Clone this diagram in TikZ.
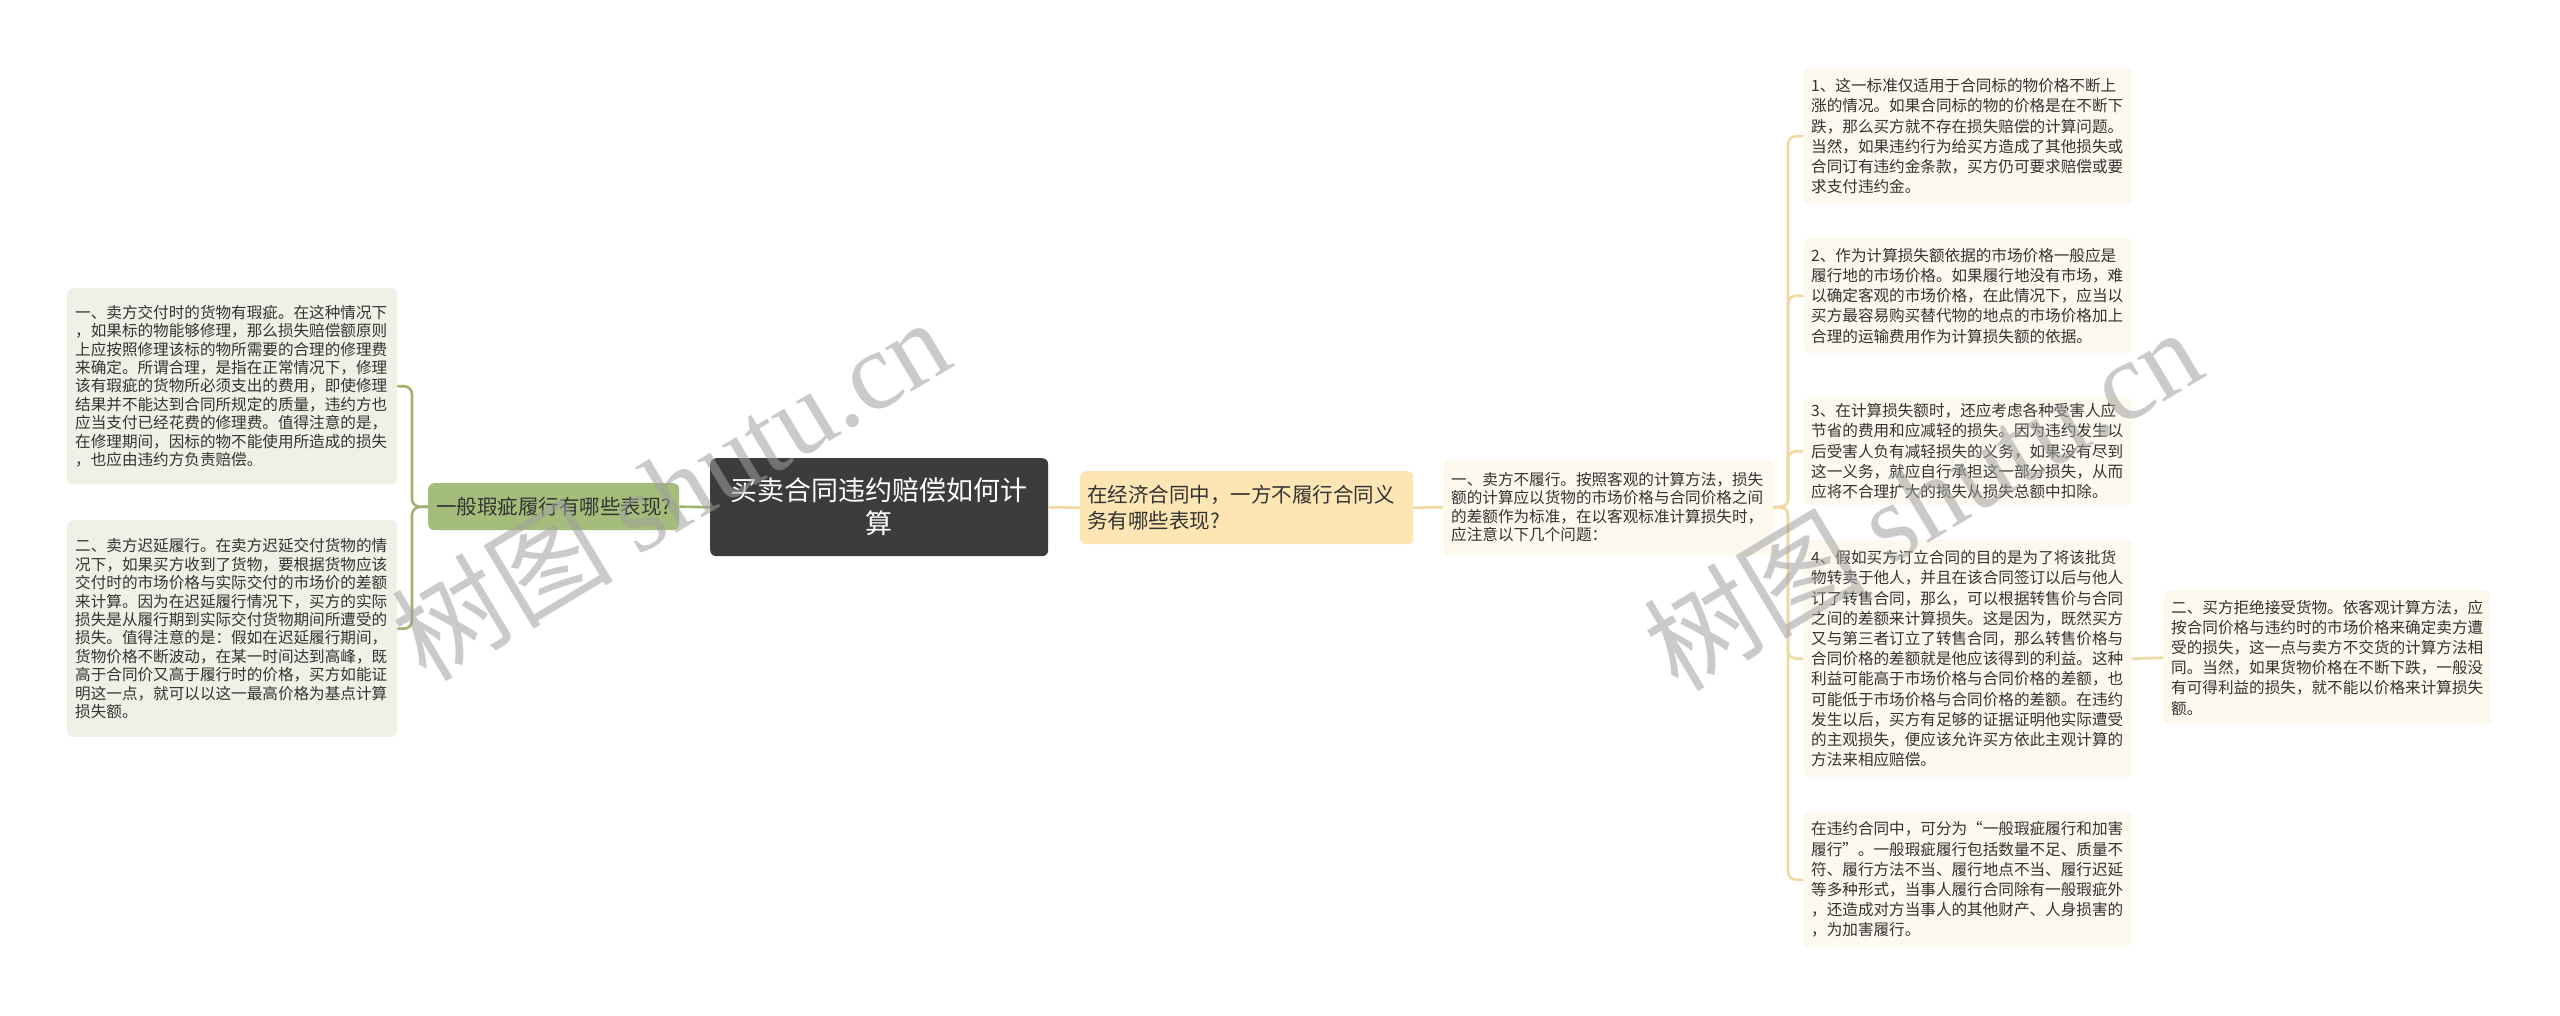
\documentclass[tikz,border=0pt]{standalone}
\usepackage{fontspec}
\setmainfont{Noto Sans CJK SC}
\newfontfamily\wmserif{Liberation Serif}
\definecolor{leafG}{HTML}{EEF1E5}
\definecolor{lineG}{HTML}{9FB36F}
\definecolor{nodeG}{HTML}{A5BD7A}
\definecolor{rootC}{HTML}{3C3C3C}
\definecolor{nodeY}{HTML}{FDE6B4}
\definecolor{lineY}{HTML}{F0D9A2}
\definecolor{leafY}{HTML}{FDF9EE}
\definecolor{txt}{HTML}{333333}
\definecolor{wm}{HTML}{A0A0A0}
\tikzset{
  box/.style={draw=none, rounded corners=6pt, anchor=north west, align=left, text=txt},
  leafL/.style={box, fill=leafG, inner xsep=8pt, inner ysep=0pt, text width=314pt,
     font=\fontsize{15.6}{18.4}\selectfont},
  leafR/.style={box, fill=leafY, inner xsep=8pt, inner ysep=0pt, text width=313pt,
     font=\fontsize{15.6}{20.2}\selectfont},
  midbox/.style={box, fill=leafY, inner xsep=8pt, inner ysep=0pt, text width=314pt,
     font=\fontsize{15.6}{18.4}\selectfont},
  rootbox/.style={box, fill=rootC, text=white, align=center, inner sep=0pt,
     minimum width=338pt, minimum height=98pt, font=\fontsize{27}{33}\selectfont},
  gbox/.style={box, fill=nodeG, align=center, inner sep=0pt,
     minimum width=251pt, minimum height=47pt, font=\fontsize{20.5}{26}\selectfont},
  ybox/.style={box, fill=nodeY, inner xsep=7pt, inner ysep=0pt, text width=319pt,
     minimum height=73pt, font=\fontsize{20.5}{26.5}\selectfont},
  gline/.style={draw=lineG, line width=2.6pt, rounded corners=8pt},
  yline/.style={draw=lineY, line width=2.6pt, rounded corners=8pt},
  wmark/.style={text=wm, opacity=0.55, rotate=31, font=\fontsize{111}{111}\selectfont}
}
\begin{document}
\begin{tikzpicture}[x=1pt,y=-1pt]
\useasboundingbox[fill=white] (0,0) rectangle (2560,1015);

% central and first-level nodes
\node[rootbox] (root) at (710,458) {买卖合同违约赔偿如何计\\算};
\node[gbox] (g) at (428,483) {一般瑕疵履行有哪些表现?};
\node[ybox] (y) at (1080,471) {在经济合同中，一方不履行合同义\\务有哪些表现?};

% left leaves
\node[leafL, minimum height=196pt] (l1) at (67,288) {一、卖方交付时的货物有瑕疵。在这种情况下\\，如果标的物能够修理，那么损失赔偿额原则\\上应按照修理该标的物所需要的合理的修理费\\来确定。所谓合理，是指在正常情况下，修理\\该有瑕疵的货物所必须支出的费用，即使修理\\结果并不能达到合同所规定的质量，违约方也\\应当支付已经花费的修理费。值得注意的是，\\在修理期间，因标的物不能使用所造成的损失\\，也应由违约方负责赔偿。};
\node[leafL, minimum height=217pt] (l2) at (67,520) {二、卖方迟延履行。在卖方迟延交付货物的情\\况下，如果买方收到了货物，要根据货物应该\\交付时的市场价格与实际交付的市场价的差额\\来计算。因为在迟延履行情况下，买方的实际\\损失是从履行期到实际交付货物期间所遭受的\\损失。值得注意的是：假如在迟延履行期间，\\货物价格不断波动，在某一时间达到高峰，既\\高于合同价又高于履行时的价格，买方如能证\\明这一点，就可以以这一最高价格为基点计算\\损失额。};

% middle right node
\node[midbox, minimum height=96pt] (m) at (1443,459) {一、卖方不履行。按照客观的计算方法，损失\\额的计算应以货物的市场价格与合同价格之间\\的差额作为标准，在以客观标准计算损失时，\\应注意以下几个问题：};

% right leaves
\node[leafR, minimum height=136pt] (r1) at (1803,68) {1、这一标准仅适用于合同标的物价格不断上\\涨的情况。如果合同标的物的价格是在不断下\\跌，那么买方就不存在损失赔偿的计算问题。\\当然，如果违约行为给买方造成了其他损失或\\合同订有违约金条款，买方仍可要求赔偿或要\\求支付违约金。};
\node[leafR, minimum height=115pt] (r2) at (1803,238) {2、作为计算损失额依据的市场价格一般应是\\履行地的市场价格。如果履行地没有市场，难\\以确定客观的市场价格，在此情况下，应当以\\买方最容易购买替代物的地点的市场价格加上\\合理的运输费用作为计算损失额的依据。};
\node[leafR, minimum height=108pt] (r3) at (1803,397) {3、在计算损失额时，还应考虑各种受害人应\\节省的费用和应减轻的损失。因为违约发生以\\后受害人负有减轻损失的义务，如果没有尽到\\这一义务，就应自行承担这一部分损失，从而\\应将不合理扩大的损失从损失总额中扣除。};
\node[leafR, minimum height=237pt] (r4) at (1803,540) {4、假如买方订立合同的目的是为了将该批货\\物转卖于他人，并且在该合同签订以后与他人\\订了转售合同，那么，可以根据转售价与合同\\之间的差额来计算损失。这是因为，既然买方\\又与第三者订立了转售合同，那么转售价格与\\合同价格的差额就是他应该得到的利益。这种\\利益可能高于市场价格与合同价格的差额，也\\可能低于市场价格与合同价格的差额。在违约\\发生以后，买方有足够的证据证明他实际遭受\\的主观损失，便应该允许买方依此主观计算的\\方法来相应赔偿。};
\node[leafR, minimum height=135pt] (r5) at (1803,812) {在违约合同中，可分为“一般瑕疵履行和加害\\履行”。一般瑕疵履行包括数量不足、质量不\\符、履行方法不当、履行地点不当、履行迟延\\等多种形式，当事人履行合同除有一般瑕疵外\\，还造成对方当事人的其他财产、人身损害的\\，为加害履行。};
\node[leafR, minimum height=135pt, text width=312pt] (f) at (2163,590) {二、买方拒绝接受货物。依客观计算方法，应\\按合同价格与违约时的市场价格来确定卖方遭\\受的损失，这一点与卖方不交货的计算方法相\\同。当然，如果货物价格在不断下跌，一般没\\有可得利益的损失，就不能以价格来计算损失\\额。};

% connectors
\draw[gline] (root.west) -- (g.east);
\coordinate (lb) at (412,507);
\draw[gline] (g.west) -- (lb) |- (l1.east);
\draw[gline] (g.west) -- (lb) |- (l2.east);
\draw[yline] (root.east) -- (y.west);
\draw[yline] (y.east) -- (m.west);
\coordinate (rb) at (1788,507);
\foreach \n in {r1,r2,r3,r4,r5}{\draw[yline] (m.east) -- (rb) |- (\n.west);}
\draw[yline] (r4.east) -- (f.west);

% watermarks
\node[wmark] (w1) at (670,488) {树图 {\wmserif shutu.cn}};
\node[wmark] (w2) at (1922,498) {树图 {\wmserif shutu.cn}};
\end{tikzpicture}
\end{document}
